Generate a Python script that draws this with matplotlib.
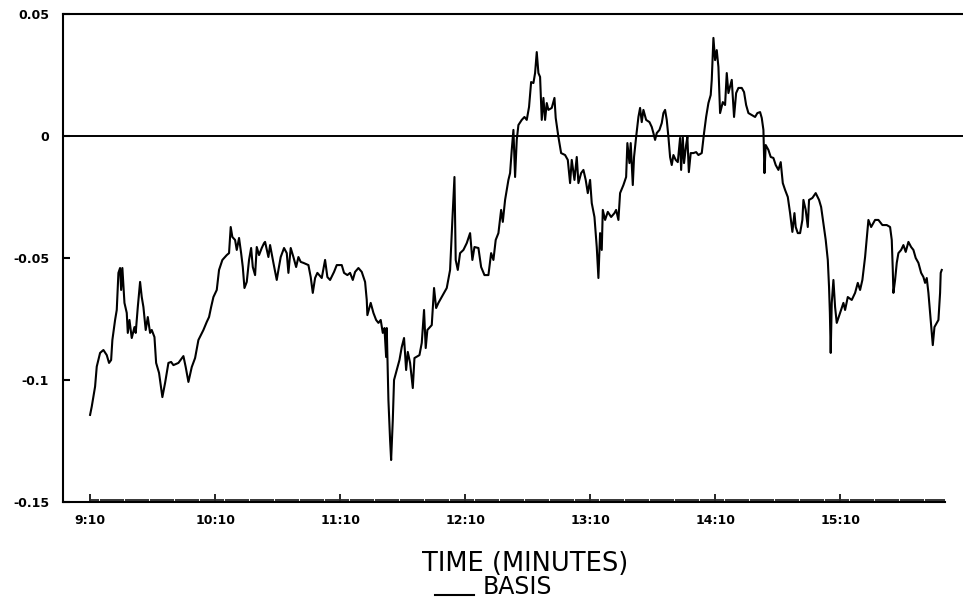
import matplotlib
matplotlib.use("Agg")
import matplotlib.pyplot as plt
from matplotlib.ticker import FixedLocator

# minutes after 9:10
minutes = [
    0, 0.8, 2.4, 3.2, 4.8, 6.4, 8.0, 9.1, 10.1, 10.7, 12.0, 12.8, 13.6, 14.4, 14.9, 15.5,
    16.5, 17.6, 18.1, 18.9, 20.0, 21.3, 21.9, 22.9, 24.0, 24.8, 25.6, 26.7, 27.7, 28.8,
    29.6, 30.9, 31.7, 33.1, 34.7, 36.0, 37.6, 38.9, 40.0, 42.4, 44.8, 45.9, 47.2, 48.8,
    50.4, 52.0, 54.4, 56.0, 57.1, 58.1, 59.2, 60.8, 61.9, 63.5, 65.6, 66.7, 67.5, 68.3,
    69.6, 70.4, 71.5, 72.5, 73.3, 74.1, 75.2, 76.3, 77.3, 78.1, 79.2, 80.0, 81.1, 82.4,
    83.5, 84.0, 85.6, 86.4, 88.0, 89.6, 90.4, 91.5, 93.1, 94.4, 95.2, 96.3, 97.6, 98.9,
    100.0, 101.1, 102.4, 104.8, 105.9, 106.9, 108.0, 109.1, 111.2, 112.8, 113.9, 115.2,
    117.1, 118.4, 120.8, 121.9, 123.5, 124.8, 126.1, 127.2, 128.8, 130.4, 132.0, 132.8,
    133.1, 134.7, 136.0, 137.3, 138.4, 139.5, 140.5, 141.3, 142.1, 142.4, 143.2, 144.0,
    144.5, 145.3, 145.9, 147.2, 148.5, 149.6, 150.7, 151.7, 152.5, 153.6, 154.9, 155.7,
    158.1, 159.2, 160.3, 161.1, 161.9, 164.0, 165.1, 166.1, 167.2, 171.2, 172.8, 173.9,
    174.9, 175.2, 175.5, 176.5, 177.6, 179.2, 180.8, 182.4, 183.5, 184.5, 186.4, 187.7,
    189.3, 191.2, 192.5, 193.6, 194.7, 196.0, 197.3, 198.1, 199.2, 200.8, 201.6, 202.4,
    203.2, 204.0, 204.8, 205.6, 207.2, 208.5, 209.6, 210.7, 211.7, 212.8, 213.6, 214.4,
    215.2, 216.0, 216.8, 217.6, 218.4, 219.2, 220.0, 221.6, 222.9, 223.5, 224.8, 226.1,
    228.0, 229.3, 230.4, 231.2, 232.5, 233.6, 234.4, 235.7, 236.8, 237.9, 238.9, 240.0,
    240.8, 242.1, 243.2, 244.0, 244.8, 245.6, 246.1, 247.2, 248.5, 250.1, 251.7, 252.5,
    253.6, 254.4, 256.0, 257.3, 257.9, 258.9, 259.5, 260.5, 261.1, 262.1, 263.2, 264.0,
    264.8, 265.6, 266.9, 268.5, 269.6, 270.4, 271.2, 272.0, 273.3, 274.4, 275.2, 276.0,
    276.8, 277.6, 278.4, 279.2, 280.0, 281.1, 282.1, 283.2, 283.7, 284.5, 285.1, 286.1,
    286.7, 287.4, 288.3, 289.6, 290.9, 292.0, 293.6, 294.7, 295.7, 296.8, 297.9, 298.4,
    299.2, 300.0, 300.8, 301.6, 302.4, 303.7, 304.8, 305.6, 306.4, 308.0, 309.1, 310.1,
    311.2, 312.8, 313.9, 314.9, 316.0, 317.6, 319.2, 320.3, 321.6, 322.4, 323.2, 323.7,
    324.3, 325.6, 326.7, 328.0, 329.1, 330.4, 331.5, 332.5, 333.6, 334.9, 336.0, 337.1,
    338.1, 338.7, 339.7, 340.8, 341.9, 342.4, 343.5, 344.5, 345.1, 346.7, 348.3, 349.9,
    350.9, 352.0, 353.1, 354.1, 354.7, 355.1, 355.5, 356.0, 356.8, 357.6, 358.4, 360.0,
    361.6, 362.4, 363.7, 365.6, 367.2, 368.5, 369.6, 370.7, 372.0, 373.0, 373.6, 374.9,
    376.8, 378.4, 380.3, 382.4, 384.0, 384.8, 385.3, 385.6, 386.4, 387.2, 388.0, 389.3,
    390.4, 391.5, 392.8, 394.1, 395.2, 396.3, 397.6, 398.9, 400.0, 400.8, 401.6, 402.4,
    403.2, 404.0, 404.5, 405.3, 406.4, 407.2, 408.0, 408.3, 408.8,
]

basis = [
    -0.1143, -0.1109, -0.1027, -0.0945, -0.0889, -0.0877, -0.0898, -0.0930, -0.0918, -0.0836,
    -0.0754, -0.0713, -0.0561, -0.0541, -0.0631, -0.0541, -0.0684, -0.0725, -0.0807, -0.0754,
    -0.0828, -0.0783, -0.0807, -0.0701, -0.0598, -0.0660, -0.0701, -0.0795, -0.0742, -0.0807,
    -0.0795, -0.0824, -0.0930, -0.0971, -0.1070, -0.1012, -0.0930, -0.0926, -0.0939, -0.0930,
    -0.0902, -0.0947, -0.1008, -0.0947, -0.0910, -0.0836, -0.0795, -0.0762, -0.0742, -0.0701,
    -0.0660, -0.0631, -0.0549, -0.0508, -0.0488, -0.0480, -0.0373, -0.0414, -0.0426, -0.0467,
    -0.0418, -0.0480, -0.0537, -0.0623, -0.0598, -0.0508, -0.0459, -0.0537, -0.0570, -0.0455,
    -0.0488, -0.0459, -0.0439, -0.0434, -0.0496, -0.0447, -0.0520, -0.0590, -0.0549, -0.0496,
    -0.0459, -0.0480, -0.0561, -0.0459, -0.0496, -0.0537, -0.0496, -0.0516, -0.0520, -0.0529,
    -0.0578, -0.0643, -0.0582, -0.0561, -0.0582, -0.0508, -0.0578, -0.0590, -0.0557, -0.0529,
    -0.0529, -0.0561, -0.0570, -0.0561, -0.0590, -0.0557, -0.0541, -0.0557, -0.0598, -0.0672,
    -0.0734, -0.0684, -0.0725, -0.0754, -0.0766, -0.0754, -0.0807, -0.0787, -0.0906, -0.0787,
    -0.1082, -0.1246, -0.1328, -0.1164, -0.1000, -0.0959, -0.0918, -0.0865, -0.0828, -0.0959,
    -0.0885, -0.0930, -0.1033, -0.0910, -0.0898, -0.0848, -0.0713, -0.0869, -0.0795, -0.0775,
    -0.0623, -0.0705, -0.0684, -0.0623, -0.0549, -0.0344, -0.0168, -0.0344, -0.0508, -0.0549,
    -0.0480, -0.0467, -0.0439, -0.0398, -0.0508, -0.0455, -0.0459, -0.0537, -0.0570, -0.0570,
    -0.0480, -0.0508, -0.0426, -0.0398, -0.0303, -0.0352, -0.0262, -0.0180, -0.0152, -0.0057,
    0.0025, -0.0168, -0.0016, 0.0045, 0.0066, 0.0078, 0.0066, 0.0119, 0.0221, 0.0217,
    0.0258, 0.0344, 0.0258, 0.0242, 0.0066, 0.0156, 0.0066, 0.0135, 0.0107, 0.0115,
    0.0156, 0.0074, -0.0004, -0.0070, -0.0078, -0.0098, -0.0193, -0.0098, -0.0180, -0.0086,
    -0.0193, -0.0152, -0.0139, -0.0180, -0.0234, -0.0180, -0.0275, -0.0332, -0.0455, -0.0582,
    -0.0398, -0.0467, -0.0303, -0.0344, -0.0311, -0.0332, -0.0316, -0.0303, -0.0344, -0.0234,
    -0.0201, -0.0168, -0.0029, -0.0111, -0.0029, -0.0201, -0.0086, -0.0004, 0.0078, 0.0115,
    0.0057, 0.0107, 0.0066, 0.0057, 0.0037, 0.0012, -0.0016, 0.0012, 0.0025, 0.0053,
    0.0094, 0.0107, 0.0066, -0.0004, -0.0086, -0.0119, -0.0078, -0.0098, -0.0107, -0.0008,
    -0.0139, -0.0004, -0.0111, -0.0037, -0.0004, -0.0148, -0.0070, -0.0070, -0.0066, -0.0078,
    -0.0070, 0.0012, 0.0078, 0.0135, 0.0168, 0.0230, 0.0402, 0.0311, 0.0352, 0.0283,
    0.0094, 0.0139, 0.0127, 0.0258, 0.0176, 0.0230, 0.0078, 0.0176, 0.0197, 0.0197,
    0.0180, 0.0127, 0.0094, 0.0086, 0.0078, 0.0094, 0.0098, 0.0074, 0.0025, -0.0152,
    -0.0037, -0.0057, -0.0086, -0.0090, -0.0119, -0.0139, -0.0107, -0.0193, -0.0221, -0.0250,
    -0.0316, -0.0393, -0.0316, -0.0373, -0.0398, -0.0398, -0.0344, -0.0262, -0.0303, -0.0373,
    -0.0262, -0.0254, -0.0234, -0.0262, -0.0291, -0.0357, -0.0426, -0.0508, -0.0619, -0.0725,
    -0.0889, -0.0684, -0.0590, -0.0701, -0.0766, -0.0725, -0.0684, -0.0713, -0.0660, -0.0672,
    -0.0643, -0.0602, -0.0631, -0.0590, -0.0496, -0.0398, -0.0344, -0.0373, -0.0344, -0.0344,
    -0.0365, -0.0365, -0.0373, -0.0426, -0.0549, -0.0643, -0.0590, -0.0520, -0.0480, -0.0467,
    -0.0447, -0.0475, -0.0434, -0.0455, -0.0467, -0.0500, -0.0520, -0.0561, -0.0578, -0.0602,
    -0.0582, -0.0643, -0.0725, -0.0807, -0.0857, -0.0783, -0.0766, -0.0754, -0.0643, -0.0561,
    -0.0549,
]

x_tick_pos = [0, 60, 120, 180, 240, 300, 360]
x_tick_labels = ["9:10", "10:10", "11:10", "12:10", "13:10", "14:10", "15:10"]
minor_tick_pos = list(range(0, 411))
y_tick_pos = [0.05, 0, -0.05, -0.1, -0.15]
y_tick_labels = ["0.05", "0", "-0.05", "-0.1", "-0.15"]

fig = plt.figure(figsize=(9.63, 5.99), dpi=100)
ax = fig.add_axes([63 / 963, 1 - 502 / 599, 900 / 963, (502 - 14) / 599])

ax.plot(minutes, basis, color="black", lw=1.5)
ax.axhline(0, color="black", lw=1.4)

ax.set_xlim(-13, 419)
ax.set_ylim(-0.15, 0.05)

ax.spines["right"].set_visible(False)
for s in ["left", "top", "bottom"]:
    ax.spines[s].set_linewidth(1.5)
ax.spines["bottom"].set_bounds(-13, 410.5)

ax.xaxis.set_major_locator(FixedLocator(x_tick_pos))
ax.set_xticklabels(x_tick_labels)
ax.xaxis.set_minor_locator(FixedLocator(minor_tick_pos))
ax.set_yticks(y_tick_pos)
ax.set_yticklabels(y_tick_labels)

ax.tick_params(axis="x", which="major", direction="in", length=6, width=1.2, pad=9,
               labelsize=9)
ax.tick_params(axis="x", which="minor", direction="in", length=2.2, width=1.1)
ax.tick_params(axis="y", which="major", direction="in", length=5, width=1.5, pad=10,
               labelsize=9)
for lab in ax.get_xticklabels() + ax.get_yticklabels():
    lab.set_fontweight("bold")
    lab.set_family("DejaVu Sans")

fig.text(525 / 963, 1 - 564 / 599, "TIME (MINUTES)", ha="center", va="center",
         fontsize=18.5, family="DejaVu Sans")
fig.text(483 / 963, 1 - 587 / 599, "BASIS", ha="left", va="center",
         fontsize=17, family="DejaVu Sans")
fig.add_artist(plt.Line2D([435 / 963, 474 / 963], [1 - 595 / 599, 1 - 595 / 599],
                          color="black", lw=1.5, transform=fig.transFigure))

fig.savefig("out.png", dpi=100)
